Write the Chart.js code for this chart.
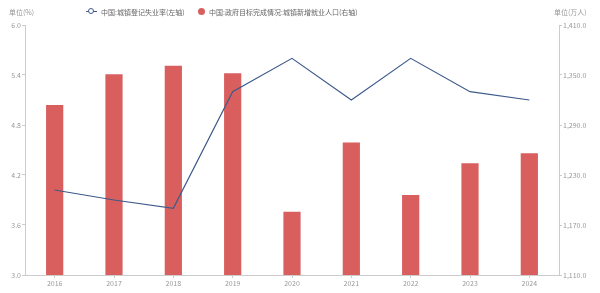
<!DOCTYPE html>
<html>
<head>
<meta charset="utf-8">
<script src="https://cdn.jsdelivr.net/npm/chart.js@4/dist/chart.umd.min.js"></script>
<style>
  body { margin: 0; background: #fff; }
  #wrap { position: relative; width: 600px; height: 293px; font-family: "Noto Sans CJK SC", sans-serif; color: #999; }
  #c { position: absolute; left: 0; top: 0; }
  .lbl { position: absolute; font-size: 7px; line-height: 8px; white-space: nowrap; }
  .leg { position: absolute; font-size: 7px; line-height: 8px; white-space: nowrap; color: #666; }
  .mk-line { position: absolute; width: 11px; height: 0; border-top: 1.3px solid #3d5a8a; }
  .mk-circ { position: absolute; width: 4px; height: 4px; border: 1.5px solid #3d5a8a; border-radius: 50%; background: #fff; }
  .mk-dot { position: absolute; width: 7px; height: 7px; border-radius: 50%; background: #d95f5f; }
</style>
</head>
<body>
<div id="wrap">
  <canvas id="c" width="600" height="293"></canvas>
  <div class="lbl" style="left:9px; top:8px;">单位(%)</div>
  <div class="lbl" style="left:554px; top:8px;">单位(万人)</div>
  <div class="mk-line" style="left:86px; top:11px;"></div>
  <div class="mk-circ" style="left:88px; top:8px;"></div>
  <div class="leg" style="left:101px; top:8px;">中国:城镇登记失业率(左轴)</div>
  <div class="mk-dot" style="left:198px; top:8px;"></div>
  <div class="leg" style="left:209px; top:8px;">中国:政府目标完成情况:城镇新增就业人口(右轴)</div>
</div>
<script>
// 年份
const years = ['2016', '2017', '2018', '2019', '2020', '2021', '2022', '2023', '2024'];
// 城镇登记失业率 (%)
const unemployment = [4.02, 3.9, 3.8, 5.2, 5.6, 5.1, 5.6, 5.2, 5.1];
// 城镇新增就业人口 (万人)
const newJobs = [1314, 1351, 1361, 1352, 1186, 1269, 1206, 1244, 1256];

const axisColor = '#cccccc';
const tickFont = { family: 'Noto Sans CJK SC', size: 7 };

const ctx = document.getElementById('c').getContext('2d');

const chart = new Chart(ctx, {
  type: 'bar',
  data: {
    labels: years,
    datasets: [
      {
        type: 'line',
        label: '中国:城镇登记失业率(左轴)',
        data: unemployment,
        yAxisID: 'y',
        borderColor: '#3d5a8a',
        borderWidth: 1.2,
        pointRadius: 0,
        tension: 0,
        order: 0
      },
      {
        type: 'bar',
        label: '中国:政府目标完成情况:城镇新增就业人口(右轴)',
        data: newJobs,
        yAxisID: 'y1',
        backgroundColor: '#d95f5f',
        barPercentage: 0.29,
        categoryPercentage: 1,
        order: 1
      }
    ]
  },
  options: {
    responsive: false,
    animation: false,
    layout: { padding: { top: 25, left: 0, right: 0, bottom: 0 } },
    plugins: { legend: { display: false }, tooltip: { enabled: false } },
    scales: {
      x: {
        offset: true,
        grid: { offset: false, drawOnChartArea: false, tickLength: 3, color: axisColor },
        border: { color: axisColor },
        ticks: { color: '#999', font: tickFont, padding: 1, maxRotation: 0 },
        afterFit: function(scale) { scale.height = 18; }
      },
      y: {
        position: 'left',
        min: 3,
        max: 6,
        grid: { drawOnChartArea: false, tickLength: 3, color: axisColor },
        border: { color: axisColor },
        ticks: {
          stepSize: 0.6,
          color: '#999',
          font: tickFont,
          padding: 1,
          callback: function(v) { return Number(v).toFixed(1); }
        },
        afterFit: function(scale) { scale.width = 25; }
      },
      y1: {
        position: 'right',
        min: 1110,
        max: 1410,
        grid: { drawOnChartArea: false, tickLength: 3, color: axisColor },
        border: { color: axisColor },
        ticks: {
          stepSize: 60,
          color: '#999',
          font: tickFont,
          padding: 1,
          callback: function(v) {
            return Number(v).toLocaleString('en-US', { minimumFractionDigits: 1, maximumFractionDigits: 1 });
          }
        },
        afterFit: function(scale) { scale.width = 41; }
      }
    }
  }
});
</script>
</body>
</html>
